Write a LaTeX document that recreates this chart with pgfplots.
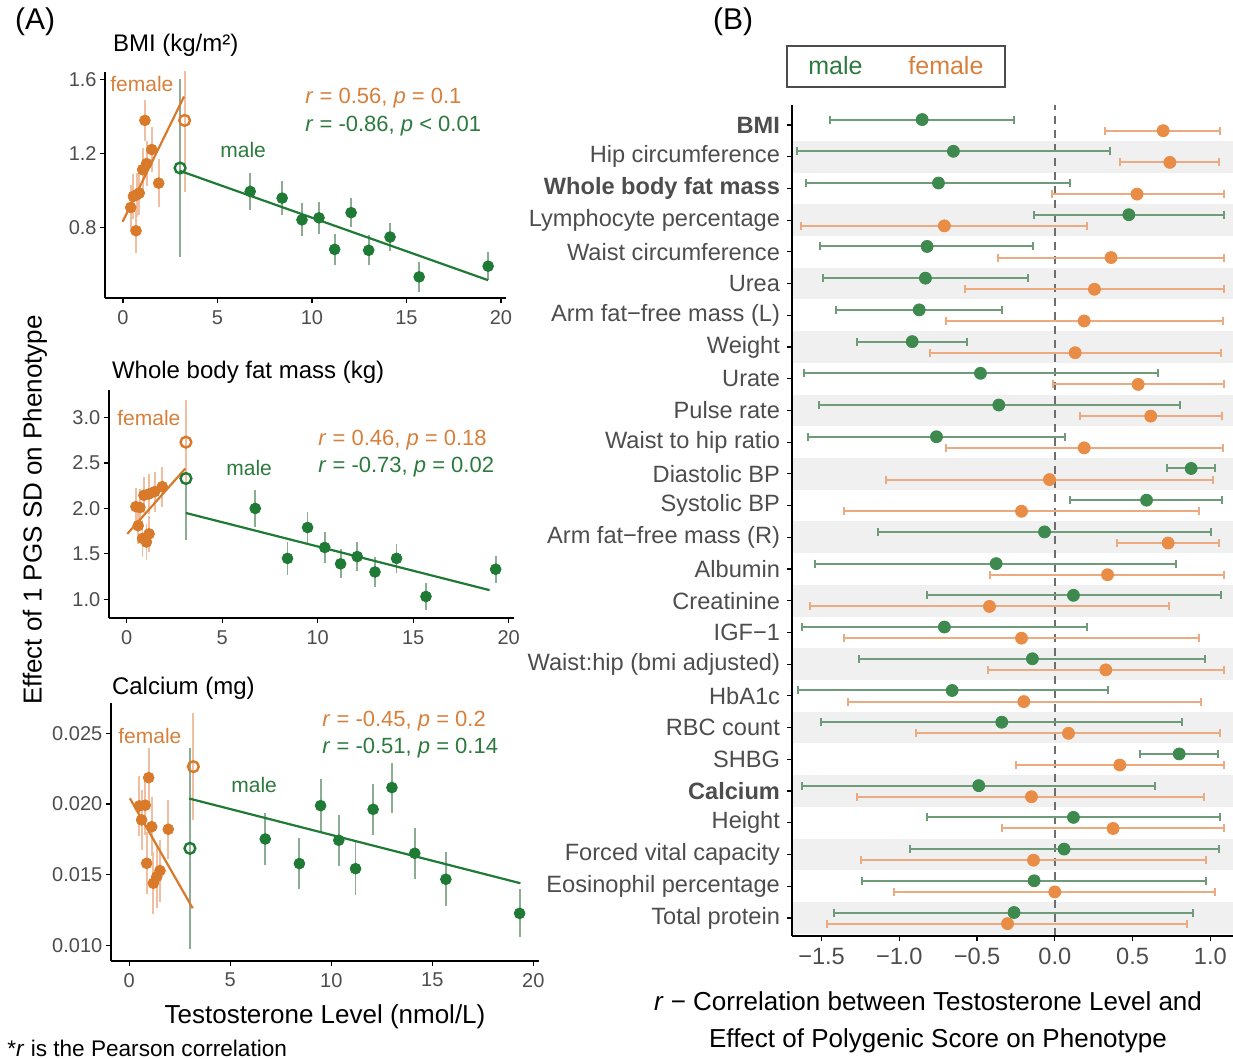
\documentclass[border=0pt]{standalone}
\usepackage{fontspec}
\setmainfont{Liberation Sans}
\usepackage{pgfplots}
\usepackage{pgfplotstable}
\pgfplotsset{compat=1.18}

\definecolor{fem}{RGB}{217,122,43}
\definecolor{mal}{RGB}{30,122,52}
\definecolor{femtxt}{RGB}{214,128,60}
\definecolor{maltxt}{RGB}{44,122,62}
\definecolor{femerr}{RGB}{240,190,160}
\definecolor{malerr}{RGB}{140,172,148}
\definecolor{rfem}{RGB}{232,140,70}
\definecolor{rmal}{RGB}{62,138,78}
\definecolor{rfembar}{RGB}{236,170,128}
\definecolor{rmalbar}{RGB}{112,155,122}
\definecolor{band}{RGB}{240,240,240}
\definecolor{ticktxt}{RGB}{77,77,77}
\definecolor{zeroline}{RGB}{110,110,110}

% ---------- panel A data ----------
\pgfplotstableread{
x y e
0.41 0.908 0.12
0.55 0.968 0.12
0.69 0.782 0.12
0.72 0.977 0.12
0.86 0.986 0.12
1.04 1.113 0.12
1.16 1.380 0.11
1.25 1.146 0.12
1.52 1.222 0.12
1.89 1.040 0.13
}\aF
\pgfplotstableread{
x y e
6.73 0.995 0.10
8.42 0.959 0.09
9.47 0.841 0.09
10.37 0.852 0.088
11.20 0.681 0.086
12.07 0.880 0.08
13.00 0.676 0.082
14.13 0.748 0.077
15.67 0.532 0.082
19.32 0.590 0.077
}\aM
\pgfplotstableread{
x y e
0.48 2.02 0.20
0.69 2.01 0.20
0.60 1.81 0.20
0.90 2.145 0.20
1.17 2.16 0.22
1.46 2.185 0.22
1.86 2.24 0.22
0.83 1.67 0.20
1.03 1.63 0.20
1.17 1.72 0.20
}\bF
\pgfplotstableread{
x y e
6.73 2.00 0.20
8.42 1.45 0.18
9.47 1.79 0.17
10.37 1.57 0.17
11.20 1.39 0.16
12.07 1.47 0.16
13.00 1.30 0.16
14.13 1.45 0.16
15.67 1.03 0.15
19.32 1.33 0.15
}\bM
\pgfplotstableread{
x y e
0.50 0.01986 0.0021
0.79 0.01991 0.0021
0.61 0.01887 0.0021
0.96 0.02186 0.0021
1.11 0.01839 0.0021
1.93 0.01821 0.0021
0.86 0.01580 0.0022
1.52 0.01528 0.0022
1.36 0.01485 0.0022
1.19 0.01439 0.0022
}\cF
\pgfplotstableread{
x y e
6.73 0.01752 0.00184
8.42 0.01578 0.0018
9.47 0.01988 0.00186
10.37 0.01743 0.0018
11.20 0.01542 0.00186
12.07 0.01962 0.0018
13.00 0.02116 0.00177
14.13 0.01651 0.0018
15.67 0.01467 0.0019
19.32 0.01226 0.0017
}\cM

% ---------- panel B data ----------
\pgfplotstableread{
row gl gm gh fl fm fh
26 -1.447 -0.853 -0.262 0.324 0.697 1.065
25 -1.657 -0.652 0.354 0.420 0.740 1.057
24 -1.597 -0.748 0.099 -0.021 0.529 1.087
23 -0.131 0.476 1.091 -1.629 -0.710 0.208
22 -1.507 -0.821 -0.139 -0.364 0.362 1.091
21 -1.492 -0.832 -0.174 -0.577 0.255 1.089
20 -1.404 -0.872 -0.339 -0.701 0.189 1.080
19 -1.275 -0.917 -0.562 -0.804 0.131 1.072
18 -1.614 -0.478 0.662 -0.011 0.536 1.087
17 -1.518 -0.360 0.806 0.161 0.617 1.078
16 -1.584 -0.761 0.064 -0.701 0.189 1.080
15 0.722 0.877 1.029 -1.087 -0.034 1.020
14 0.099 0.590 1.078 -1.353 -0.214 0.928
13 -1.138 -0.066 1.007 0.401 0.729 1.059
12 -1.539 -0.377 0.782 -0.416 0.339 1.091
11 -0.823 0.120 1.068 -1.576 -0.420 0.735
10 -1.627 -0.710 0.208 -1.353 -0.214 0.928
9 -1.256 -0.144 0.967 -0.431 0.328 1.091
8 -1.651 -0.660 0.343 -1.333 -0.199 0.937
7 -1.503 -0.341 0.821 -0.890 0.088 1.061
6 0.551 0.800 1.048 -0.249 0.418 1.091
5 -1.623 -0.489 0.647 -1.269 -0.150 0.962
4 -0.823 0.120 1.065 -0.339 0.375 1.091
3 -0.930 0.060 1.053 -1.248 -0.137 0.971
2 -1.239 -0.133 0.975 -1.033 0.000 1.033
1 -1.417 -0.262 0.890 -1.464 -0.304 0.853
}\rdata

\pgfplotsset{
  leftpanel/.style={
    scale only axis, anchor=south west,
    axis x line*=bottom, axis y line*=left, tick pos=left,
    axis line style={line width=1pt},
    tick align=outside, major tick length=2.5pt,
    tick style={black, line width=0.6pt},
    xtick={0,5,10,15,20}, xticklabels={0,5,10,15,20},
    tick label style={font=\fontsize{10}{12}\selectfont, text=ticktxt},
    yticklabel style={inner sep=1.5pt},
    xmax=20.27, axis on top,
  },
  ferr/.style={draw=none, mark=none, forget plot,
    error bars/.cd, y dir=both, y explicit, error mark=none,
    error bar style={draw=femerr, line width=0.9pt}},
  merr/.style={draw=none, mark=none, forget plot,
    error bars/.cd, y dir=both, y explicit, error mark=none,
    error bar style={draw=malerr, line width=0.9pt}},
  fdot/.style={only marks, color=fem, mark=*, mark size=2.7pt},
  mdot/.style={only marks, color=mal, mark=*, mark size=2.7pt},
  fopen/.style={only marks, color=fem, mark=o, mark size=2.7pt, mark options={line width=1.2pt}},
  mopen/.style={only marks, color=mal, mark=o, mark size=2.7pt, mark options={line width=1.2pt}},
}

\begin{document}
\begin{tikzpicture}
\path[use as bounding box] (0,0) rectangle (616.5pt,529.5pt);

% ================= Panel A1: BMI =================
\begin{axis}[leftpanel, at={(52.5pt,380.35pt)}, width=200.55pt, height=113.3pt,
  xmin=-0.952, ymin=0.416, ymax=1.644,
  ytick={0.8,1.2,1.6}, yticklabels={0.8,1.2,1.6}]
\addplot[ferr] table[x=x,y=y,y error=e]{\aF};
\addplot[merr] table[x=x,y=y,y error=e]{\aM};
\addplot[merr] coordinates {(3.02,1.122) +- (0,0.48)};
\addplot[ferr] coordinates {(3.26,1.38) +- (0,0.39)};
\addplot[fem, line width=1.1pt] coordinates {(-0.02,0.831) (3.23,1.509)};
\addplot[mal, line width=1.1pt] coordinates {(3.0,1.107) (19.32,0.514)};
\addplot[fdot] table[x=x,y=y]{\aF};
\addplot[mdot] table[x=x,y=y]{\aM};
\addplot[mopen] coordinates {(3.02,1.122)};
\addplot[fopen] coordinates {(3.26,1.38)};
\end{axis}

% ================= Panel A2: Whole body fat mass =================
\begin{axis}[leftpanel, at={(54.3pt,220.35pt)}, width=202.6pt, height=114.15pt,
  xmin=-0.95, ymin=0.79, ymax=3.305,
  ytick={1,1.5,2,2.5,3}, yticklabels={1.0,1.5,2.0,2.5,3.0}]
\addplot[ferr] table[x=x,y=y,y error=e]{\bF};
\addplot[merr] table[x=x,y=y,y error=e]{\bM};
\addplot[merr] coordinates {(3.10,2.33) +- (0,0.68)};
\addplot[ferr] coordinates {(3.10,2.73) +- (0,0.46)};
\addplot[fem, line width=1.1pt] coordinates {(0.03,1.72) (3.07,2.44)};
\addplot[mal, line width=1.1pt] coordinates {(3.10,1.95) (19.0,1.10)};
\addplot[fdot] table[x=x,y=y]{\bF};
\addplot[mdot] table[x=x,y=y]{\bM};
\addplot[mopen] coordinates {(3.10,2.33)};
\addplot[fopen] coordinates {(3.10,2.73)};
\end{axis}

% ================= Panel A3: Calcium =================
\begin{axis}[leftpanel, at={(55.35pt,49pt)}, width=214.05pt, height=128.85pt,
  xmin=-0.92, ymin=0.00889, ymax=0.02712, scaled y ticks=false,
  ytick={0.010,0.015,0.020,0.025}, yticklabels={0.010,0.015,0.020,0.025}]
\addplot[ferr] table[x=x,y=y,y error=e]{\cF};
\addplot[merr] table[x=x,y=y,y error=e]{\cM};
\addplot[merr] coordinates {(3.0,0.01686) +- (0,0.0071)};
\addplot[ferr] coordinates {(3.17,0.02264) +- (0,0.0038)};
\addplot[fem, line width=1.1pt] coordinates {(0.03,0.0204) (3.14,0.01262)};
\addplot[mal, line width=1.1pt] coordinates {(2.97,0.02038) (19.36,0.01439)};
\addplot[fdot] table[x=x,y=y]{\cF};
\addplot[mdot] table[x=x,y=y]{\cM};
\addplot[mopen] coordinates {(3.0,0.01686)};
\addplot[fopen] coordinates {(3.17,0.02264)};
\end{axis}

% ================= Panel B =================
\begin{axis}[scale only axis, anchor=south west, at={(396pt,61.5pt)},
  width=220.5pt, height=415.5pt,
  xmin=-1.69, xmax=1.146, ymin=0.43, ymax=26.63,
  axis x line*=bottom, axis y line*=left, tick pos=left,
  axis line style={line width=1.2pt},
  tick align=outside, major tick length=2.5pt,
  tick style={black, line width=0.6pt}, axis on top,
  xtick={-1.5,-1,-0.5,0,0.5,1},
  xticklabels={−1.5,−1.0,−0.5,0.0,0.5,1.0},
  ytick={1,...,26},
  yticklabels={Total protein,Eosinophil percentage,Forced vital capacity,Height,\textbf{Calcium},SHBG,RBC count,HbA1c,Waist:hip (bmi adjusted),IGF−1,Creatinine,Albumin,Arm fat−free mass (R),Systolic BP,Diastolic BP,Waist to hip ratio,Pulse rate,Urate,Weight,Arm fat−free mass (L),Urea,Waist circumference,Lymphocyte percentage,\textbf{Whole body fat mass},Hip circumference,\textbf{BMI}},
  tick label style={font=\fontsize{11.8}{13}\selectfont, text=ticktxt},
]
\fill[band] (axis cs:-1.69,0.5) rectangle (axis cs:1.146,1.5);
\fill[band] (axis cs:-1.69,2.5) rectangle (axis cs:1.146,3.5);
\fill[band] (axis cs:-1.69,4.5) rectangle (axis cs:1.146,5.5);
\fill[band] (axis cs:-1.69,6.5) rectangle (axis cs:1.146,7.5);
\fill[band] (axis cs:-1.69,8.5) rectangle (axis cs:1.146,9.5);
\fill[band] (axis cs:-1.69,10.5) rectangle (axis cs:1.146,11.5);
\fill[band] (axis cs:-1.69,12.5) rectangle (axis cs:1.146,13.5);
\fill[band] (axis cs:-1.69,14.5) rectangle (axis cs:1.146,15.5);
\fill[band] (axis cs:-1.69,16.5) rectangle (axis cs:1.146,17.5);
\fill[band] (axis cs:-1.69,18.5) rectangle (axis cs:1.146,19.5);
\fill[band] (axis cs:-1.69,20.5) rectangle (axis cs:1.146,21.5);
\fill[band] (axis cs:-1.69,22.5) rectangle (axis cs:1.146,23.5);
\fill[band] (axis cs:-1.69,24.5) rectangle (axis cs:1.146,25.5);
\draw[zeroline, line width=0.8pt, dash pattern=on 4pt off 3pt] (axis cs:0,0.43) -- (axis cs:0,26.63);
\addplot[draw=none, mark=none, forget plot,
  error bars/.cd, x dir=both, x explicit, error mark=|,
  error bar style={draw=rmalbar, line width=1pt},
  error mark options={draw=rmalbar, line width=1pt, mark size=2pt}]
  table[x=gm, y expr=\thisrow{row}+0.17,
        x error plus expr=\thisrow{gh}-\thisrow{gm},
        x error minus expr=\thisrow{gm}-\thisrow{gl}]{\rdata};
\addplot[draw=none, mark=none, forget plot,
  error bars/.cd, x dir=both, x explicit, error mark=|,
  error bar style={draw=rfembar, line width=1pt},
  error mark options={draw=rfembar, line width=1pt, mark size=2pt}]
  table[x=fm, y expr=\thisrow{row}-0.18,
        x error plus expr=\thisrow{fh}-\thisrow{fm},
        x error minus expr=\thisrow{fm}-\thisrow{fl}]{\rdata};
\addplot[only marks, color=rmal, mark=*, mark size=3pt]
  table[x=gm, y expr=\thisrow{row}+0.17]{\rdata};
\addplot[only marks, color=rfem, mark=*, mark size=3pt]
  table[x=fm, y expr=\thisrow{row}-0.18]{\rdata};
\end{axis}

% ================= Texts =================
\node[anchor=west, font=\fontsize{15}{18}\selectfont] at (4pt,518.5pt) {(A)};
\node[anchor=west, font=\fontsize{15}{18}\selectfont] at (353pt,518.5pt) {(B)};
\node[anchor=west, font=\fontsize{12}{14}\selectfont] at (53pt,507pt) {BMI (kg/m²)};
\node[anchor=west, font=\fontsize{12}{14}\selectfont] at (52.5pt,343.5pt) {Whole body fat mass (kg)};
\node[anchor=west, font=\fontsize{12}{14}\selectfont] at (52.5pt,185.5pt) {Calcium (mg)};
\node[rotate=90, font=\fontsize{13}{15}\selectfont] at (17.5pt,274.5pt) {Effect of 1 PGS SD on Phenotype};
\node[font=\fontsize{13}{15}\selectfont] at (162.5pt,21pt) {Testosterone Level (nmol/L)};
\node[anchor=west, font=\fontsize{11.3}{13}\selectfont, inner sep=0pt] at (3.5pt,5.5pt) {*\textit{r} is the Pearson correlation};
\node[font=\fontsize{13}{15}\selectfont] at (464pt,29pt) {\textit{r} − Correlation between Testosterone Level and};
\node[font=\fontsize{13}{15}\selectfont] at (469pt,9pt) {Effect of Polygenic Score on Phenotype};

% panel A1 in-plot texts
\node[anchor=west, text=femtxt, font=\fontsize{10.5}{12}\selectfont, inner sep=0pt] at (55pt,487.5pt) {female};
\node[anchor=west, text=maltxt, font=\fontsize{10.5}{12}\selectfont, inner sep=0pt] at (110pt,454.5pt) {male};
\node[anchor=west, text=femtxt, font=\fontsize{11}{13}\selectfont, inner sep=0pt] at (152.5pt,480.5pt) {\textit{r} = 0.56, \textit{p} = 0.1};
\node[anchor=west, text=maltxt, font=\fontsize{11}{13}\selectfont, inner sep=0pt] at (152.5pt,466.5pt) {\textit{r} = -0.86, \textit{p} < 0.01};
% panel A2
\node[anchor=west, text=femtxt, font=\fontsize{10.5}{12}\selectfont, inner sep=0pt] at (58.5pt,320.5pt) {female};
\node[anchor=west, text=maltxt, font=\fontsize{10.5}{12}\selectfont, inner sep=0pt] at (113pt,295.5pt) {male};
\node[anchor=west, text=femtxt, font=\fontsize{11}{13}\selectfont, inner sep=0pt] at (159pt,309.5pt) {\textit{r} = 0.46, \textit{p} = 0.18};
\node[anchor=west, text=maltxt, font=\fontsize{11}{13}\selectfont, inner sep=0pt] at (159pt,296pt) {\textit{r} = -0.73, \textit{p} = 0.02};
% panel A3
\node[anchor=west, text=femtxt, font=\fontsize{10.5}{12}\selectfont, inner sep=0pt] at (59pt,161.5pt) {female};
\node[anchor=west, text=maltxt, font=\fontsize{10.5}{12}\selectfont, inner sep=0pt] at (115.5pt,137pt) {male};
\node[anchor=west, text=femtxt, font=\fontsize{11}{13}\selectfont, inner sep=0pt] at (161pt,169pt) {\textit{r} = -0.45, \textit{p} = 0.2};
\node[anchor=west, text=maltxt, font=\fontsize{11}{13}\selectfont, inner sep=0pt] at (161pt,155.5pt) {\textit{r} = -0.51, \textit{p} = 0.14};

% legend of panel B
\draw[black!70, line width=0.7pt] (393.5pt,486pt) rectangle (502.5pt,506.5pt);
\node[anchor=west, text=maltxt, font=\fontsize{12.5}{14}\selectfont, inner sep=0pt] at (404pt,496.5pt) {male};
\node[anchor=west, text=femtxt, font=\fontsize{12.5}{14}\selectfont, inner sep=0pt] at (454pt,496.5pt) {female};
\end{tikzpicture}
\end{document}
